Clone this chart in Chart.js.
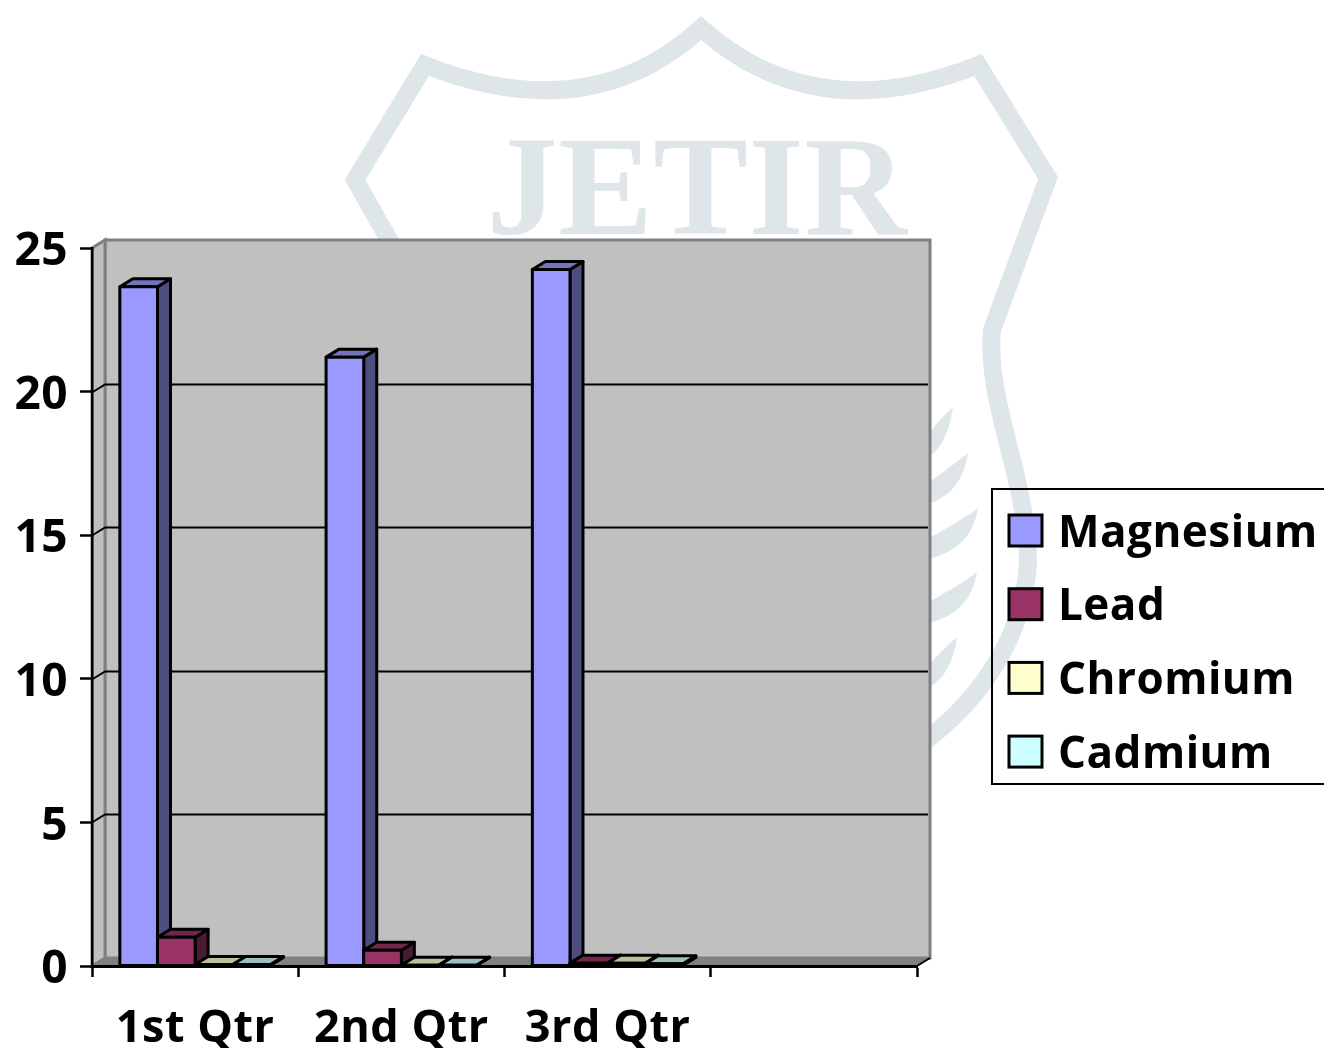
<!DOCTYPE html>
<html>
<head>
<meta charset="utf-8">
<title>Chart</title>
<script src="https://cdn.jsdelivr.net/npm/chart.js@4"></script>
<style>
    html, body { margin: 0; padding: 0; background: #fff; overflow: hidden; }
    canvas { display: block; }
</style>
</head>
<body>
<canvas id="metalChart" width="1324" height="1048"></canvas>
<script>
const categories = ['1st Qtr', '2nd Qtr', '3rd Qtr', ''];
const yTicks = [0, 5, 10, 15, 20, 25];
const magnesium = [23.65, 21.2, 24.25, null];
const lead = [1.0, 0.55, 0.1, null];
const chromium = [0.05, 0.03, 0.1, null];
const cadmium = [0.05, 0.03, 0.08, null];

const LABEL_FONT = '"Open Sans", sans-serif';
const DEPTH_X = 13;
const DEPTH_Y = 8;
const WATERMARK = '#dfe6ea';

function poly(ctx, pts, fill, stroke, lw) {
    ctx.beginPath();
    pts.forEach((p, i) => i ? ctx.lineTo(p[0], p[1]) : ctx.moveTo(p[0], p[1]));
    ctx.closePath();
    if (fill) { ctx.fillStyle = fill; ctx.fill(); }
    if (stroke) { ctx.strokeStyle = stroke; ctx.lineWidth = lw; ctx.stroke(); }
}

function drawWatermark(ctx) {
    ctx.save();
    ctx.strokeStyle = WATERMARK;
    ctx.lineWidth = 18;
    ctx.lineJoin = 'miter';
    ctx.beginPath();
    ctx.moveTo(395, 250);
    ctx.lineTo(355, 180);
    ctx.lineTo(425, 65);
    ctx.quadraticCurveTo(590, 130, 701, 28);
    ctx.quadraticCurveTo(815, 130, 978, 65);
    ctx.lineTo(1048, 178);
    ctx.lineTo(992, 330);
    ctx.bezierCurveTo(985, 400, 1028, 480, 1028, 563);
    ctx.bezierCurveTo(1024, 640, 975, 710, 905, 755);
    ctx.stroke();

    ctx.fillStyle = WATERMARK;
    [[953, 407], [968, 453], [978, 508], [977, 572], [957, 637]].forEach(tip => {
        ctx.beginPath();
        ctx.moveTo(tip[0], tip[1]);
        ctx.quadraticCurveTo(tip[0] - 12, tip[1] + 10, 925, tip[1] + 32);
        ctx.lineTo(925, tip[1] + 52);
        ctx.quadraticCurveTo(tip[0] - 6, tip[1] + 42, tip[0], tip[1]);
        ctx.fill();
    });

    ctx.font = 'bold 142px "Liberation Serif", serif';
    ctx.textAlign = 'center';
    ctx.textBaseline = 'alphabetic';
    ctx.fillText('JETIR', 697, 234);
    ctx.restore();
}

const plot3d = {
    id: 'plot3d',
    beforeDraw(chart) {
        const { ctx, chartArea, scales } = chart;
        const { left, right, top, bottom } = chartArea;
        ctx.letterSpacing = '0.5px'; // labels run a bit wider than Open Sans
        ctx.save();
        ctx.fillStyle = '#fff';
        ctx.fillRect(0, 0, chart.width, chart.height);
        drawWatermark(ctx);

        // walls and floor behind the bars
        poly(ctx, [[left + DEPTH_X, top - DEPTH_Y], [right + DEPTH_X, top - DEPTH_Y],
            [right + DEPTH_X, bottom - DEPTH_Y], [left + DEPTH_X, bottom - DEPTH_Y]], '#c0c0c0', '#808080', 3);
        poly(ctx, [[left, top], [left + DEPTH_X, top - DEPTH_Y],
            [left + DEPTH_X, bottom - DEPTH_Y], [left, bottom]], '#c0c0c0', '#808080', 3);
        poly(ctx, [[left, bottom], [left + DEPTH_X, bottom - DEPTH_Y],
            [right + DEPTH_X, bottom - DEPTH_Y], [right, bottom]], '#808080');

        ctx.strokeStyle = '#000';
        ctx.lineWidth = 2;
        yTicks.slice(1, -1).forEach(v => {
            const y = Math.round(scales.y.getPixelForValue(v)) + 0.5;
            ctx.beginPath();
            ctx.moveTo(left, y);
            ctx.lineTo(left + DEPTH_X, y - DEPTH_Y);
            ctx.lineTo(right + DEPTH_X - 2, y - DEPTH_Y);
            ctx.stroke();
        });
        ctx.beginPath();
        ctx.moveTo(right, bottom);
        ctx.lineTo(right + DEPTH_X, bottom - DEPTH_Y);
        ctx.stroke();
        ctx.restore();
    },
    beforeDatasetDraw() {
        return false; // bars are painted left to right in afterDatasetsDraw
    },
    afterDatasetsDraw(chart) {
        const { ctx } = chart;
        for (let c = 0; c < categories.length; c++) {
            chart.data.datasets.forEach((ds, d) => {
                if (ds.data[c] === null) return;
                const bar = chart.getDatasetMeta(d).data[c];
                const l = bar.x - bar.width / 2;
                const r = bar.x + bar.width / 2;
                const t = bar.y;
                const b = bar.base;
                ctx.save();
                ctx.lineJoin = 'round';
                poly(ctx, [[r, t], [r + DEPTH_X, t - DEPTH_Y], [r + DEPTH_X, b - DEPTH_Y], [r, b]], ds.sideColor, '#000', 3);
                poly(ctx, [[l, t], [l + DEPTH_X, t - DEPTH_Y], [r + DEPTH_X, t - DEPTH_Y], [r, t]], ds.topColor, '#000', 3);
                poly(ctx, [[l, t], [r, t], [r, b], [l, b]], ds.backgroundColor, '#000', 3);
                ctx.restore();
            });
        }
    },
    afterDraw(chart) {
        const { ctx, scales } = chart;
        ctx.save();
        ctx.textBaseline = 'middle';
        ctx.fillStyle = '#000';

        // y labels sit a little under their ticks
        ctx.font = 'bold 46px ' + LABEL_FONT;
        ctx.textAlign = 'right';
        yTicks.forEach(v => ctx.fillText(String(v), 68, scales.y.getPixelForValue(v) + 4));

        // legend
        ctx.font = 'bold 44px ' + LABEL_FONT;
        ctx.textAlign = 'left';
        ctx.strokeStyle = '#000';
        ctx.lineWidth = 2;
        ctx.strokeRect(992, 489, 345, 295);
        chart.data.datasets.forEach((ds, i) => {
            const y = 515 + i * 73.7;
            ctx.fillStyle = ds.backgroundColor;
            ctx.fillRect(1009, y, 33, 31);
            ctx.lineWidth = 3;
            ctx.strokeRect(1009, y, 33, 31);
            ctx.fillStyle = '#000';
            ctx.fillText(ds.label, 1058, y + 19);
        });
        ctx.restore();
    }
};

new Chart(document.getElementById('metalChart').getContext('2d'), {
    type: 'bar',
    data: {
        labels: categories,
        datasets: [
            { label: 'Magnesium', data: magnesium, backgroundColor: '#9999ff', topColor: '#7373bf', sideColor: '#4d4d80' },
            { label: 'Lead', data: lead, backgroundColor: '#993366', topColor: '#73264d', sideColor: '#4d1a33' },
            { label: 'Chromium', data: chromium, backgroundColor: '#ffffcc', topColor: '#bfbf99', sideColor: '#808066' },
            { label: 'Cadmium', data: cadmium, backgroundColor: '#ccffff', topColor: '#99bfbf', sideColor: '#668080' }
        ]
    },
    options: {
        responsive: false,
        animation: false,
        layout: { padding: { top: 248, right: 407, left: 0, bottom: 0 } },
        plugins: {
            legend: { display: false },
            tooltip: { enabled: false }
        },
        datasets: { bar: { categoryPercentage: 0.73, barPercentage: 1 } },
        scales: {
            x: {
                afterFit(scale) { scale.height = 82; },
                grid: { drawOnChartArea: false, tickLength: 11, tickWidth: 2.5, tickColor: '#000' },
                border: { color: '#000', width: 3 },
                ticks: { color: '#000', padding: 25, maxRotation: 0, font: { family: LABEL_FONT, size: 45, weight: 'bold' } }
            },
            y: {
                min: 0,
                max: 25,
                afterFit(scale) { scale.width = 92; },
                grid: { drawOnChartArea: false, tickLength: 12, tickWidth: 2.5, tickColor: '#000' },
                border: { color: '#000', width: 2.5 },
                ticks: { stepSize: 5, display: false }
            }
        }
    },
    plugins: [plot3d]
});
</script>
</body>
</html>
